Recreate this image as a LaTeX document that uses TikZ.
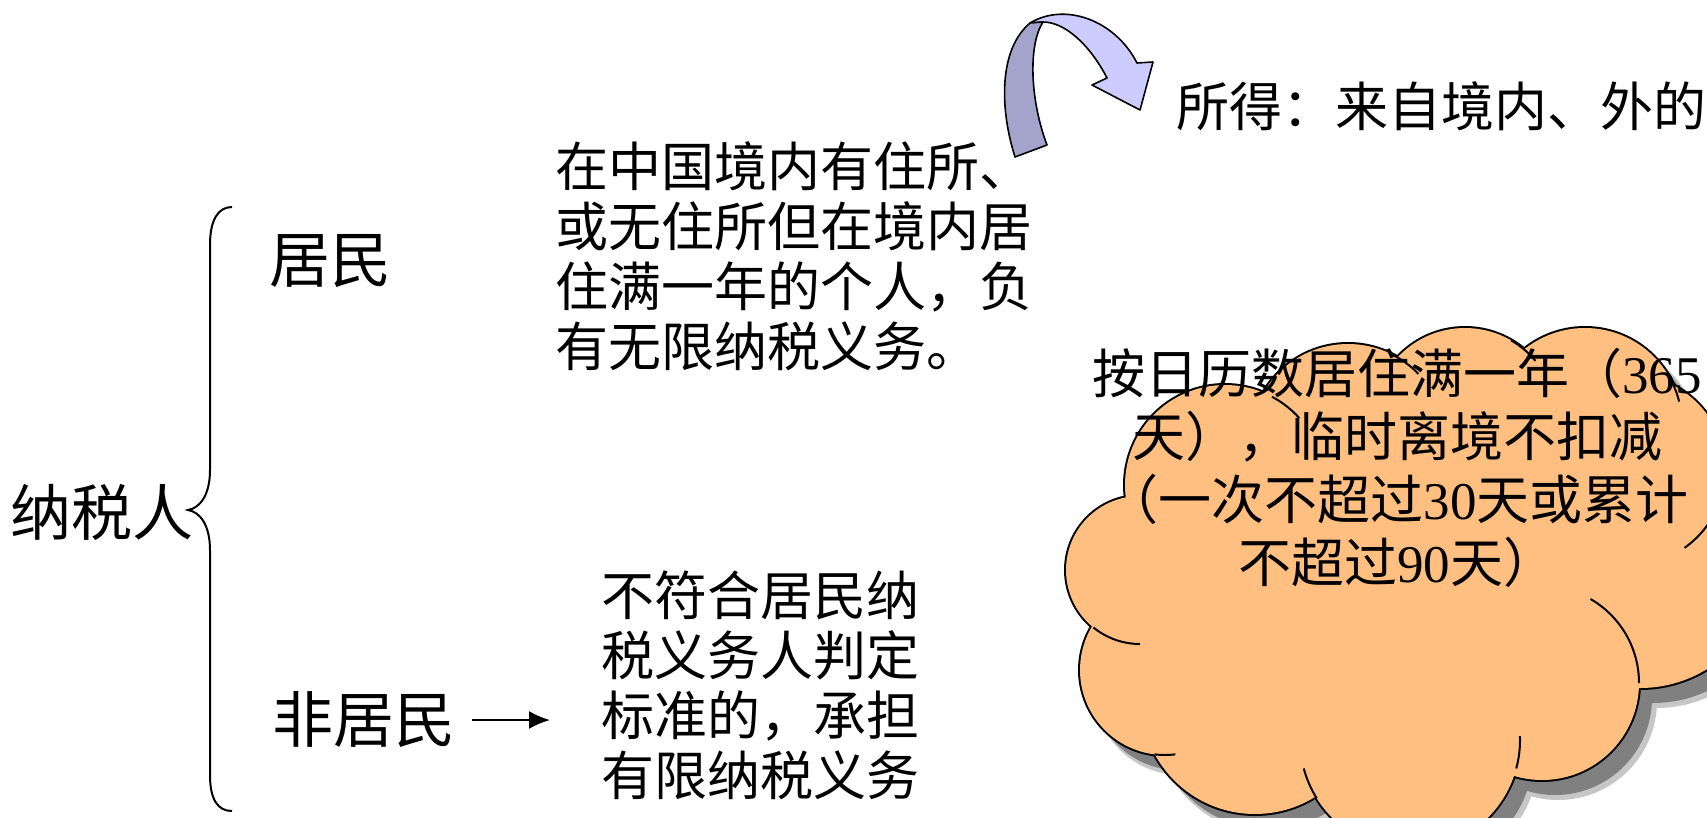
\documentclass[tikz,border=0pt]{standalone}
\usepackage{fontspec}
\setmainfont{Liberation Serif}
\newfontfamily\cjk{Noto Sans CJK SC}
\usetikzlibrary{arrows.meta}
\definecolor{cloudfill}{RGB}{255,191,128}
\definecolor{shadowgray}{RGB}{128,128,128}
\definecolor{bandlight}{RGB}{204,204,255}
\definecolor{banddark}{RGB}{163,163,204}
\newcommand\dg[1]{{\rmfamily #1}}
\tikzset{
  lbl/.style={inner sep=0pt, font=\cjk\fontsize{61}{61}\selectfont},
  txt/.style={inner sep=0pt, font=\cjk\fontsize{53}{60}\selectfont, align=left},
  cloudtxt/.style={inner sep=0pt, font=\cjk\fontsize{53}{63}\selectfont, align=center},
  bracestyle/.style={line width=2pt},
  conn/.style={line width=2.2pt, -{Latex[length=21pt,width=18pt]}},
  bandedge/.style={line width=1.6pt, line join=round},
  cloudline/.style={line width=2pt}
}
\def\cloudlobes{1140/570/74, 1165/670/85, 1225/485/100, 1348/442/98, 1465/420/92, 1585/425/97, 1630/470/95, 1640/560/128, 1542/683/97, 1255/700/114, 1410/740/110, 1380/580/180, 1250/590/130}
\begin{document}
\begin{tikzpicture}[x=1pt,y=-1pt]
\useasboundingbox (0,0) rectangle (1707,817);
% ---- cloud shadow
\foreach \cx/\cy/\r in \cloudlobes { \fill[shadowgray!45] (\cx+16,\cy+18) circle[radius=\r pt+2pt]; }
\foreach \cx/\cy/\r in \cloudlobes { \fill[shadowgray] (\cx+13,\cy+15) circle[radius=\r pt]; }
% ---- cloud outline and fill
\foreach \cx/\cy/\r in \cloudlobes { \draw[line width=4pt] (\cx,\cy) circle[radius=\r pt]; }
\foreach \cx/\cy/\r in \cloudlobes { \fill[cloudfill] (\cx,\cy) circle[radius=\r pt]; }
% ---- inner arcs of the cloud
\draw[cloudline] (1225,485) ++(62:100pt) arc[start angle=62, end angle=42, radius=100pt];
\draw[cloudline] (1348,442) ++(62:98pt) arc[start angle=62, end angle=44, radius=98pt];
\draw[cloudline] (1465,420) ++(60:92pt) arc[start angle=60, end angle=40, radius=92pt];
\draw[cloudline] (1585,425) ++(29:97pt) arc[start angle=29, end angle=14, radius=97pt];
\draw[cloudline] (1630,470) ++(-26:95pt) arc[start angle=-26, end angle=-55, radius=95pt];
\draw[cloudline] (1140,570) ++(-129:74pt) arc[start angle=-129, end angle=-90, radius=74pt];
\draw[cloudline] (1165,670) ++(-97:85pt) arc[start angle=-97, end angle=-83, radius=85pt];
\draw[cloudline] (1410,740) ++(-148:110pt) arc[start angle=-148, end angle=-165, radius=110pt];
\draw[cloudline] (1542,683) ++(60:97pt) arc[start angle=60, end angle=0, radius=97pt];
\draw[cloudline] (1410,740) ++(-15:110pt) arc[start angle=-15, end angle=2, radius=110pt];
% ---- curved arrow
\draw[bandedge, fill=bandlight] (1030,23) .. controls (1065,2) and (1115,20) .. (1137,63)
  -- (1153,62) -- (1140,110) -- (1092,85) -- (1107,78)
  .. controls (1090,45) and (1065,22) .. (1043,22) -- cycle;
\draw[bandedge, fill=banddark] (1015,157) .. controls (1000,110) and (998,50) .. (1030,23)
  -- (1043,22) .. controls (1028,45) and (1030,100) .. (1047,145) -- cycle;
% ---- labels
\node[lbl] (taxpayer) at (102,512) {纳税人};
\node[lbl] (res) at (330,261) {居民};
\node[lbl] (nonres) at (364,720) {非居民};
% ---- brace
\draw[bracestyle] (232,207) .. controls (218,207) and (210,220) .. (210,245) -- (210,470)
  .. controls (210,495) and (200,508) .. (188,510)
  .. controls (200,512) and (210,525) .. (210,550) -- (210,775)
  .. controls (210,800) and (218,811) .. (232,811);
% ---- texts
\node[txt, anchor=north west] (desc1) at (555,141) {在中国境内有住所、\\或无住所但在境内居\\住满一年的个人，负\\有无限纳税义务。};
\node[txt, anchor=north west] (desc2) at (601,571) {不符合居民纳\\税义务人判定\\标准的，承担\\有限纳税义务};
\node[txt, anchor=west] (income) at (1176,106) {所得：来自境内、外的};
\node[cloudtxt, anchor=north] (cloudtext) at (1397,348) {按日历数居住满一年（\dg{365}\\天），临时离境不扣减\\（一次不超过\dg{30}天或累计\\不超过\dg{90}天）};
% ---- connector
\draw[conn] ([xshift=16pt]nonres.east) -- ([xshift=-51pt]desc2.west |- nonres.east);
\end{tikzpicture}
\end{document}
